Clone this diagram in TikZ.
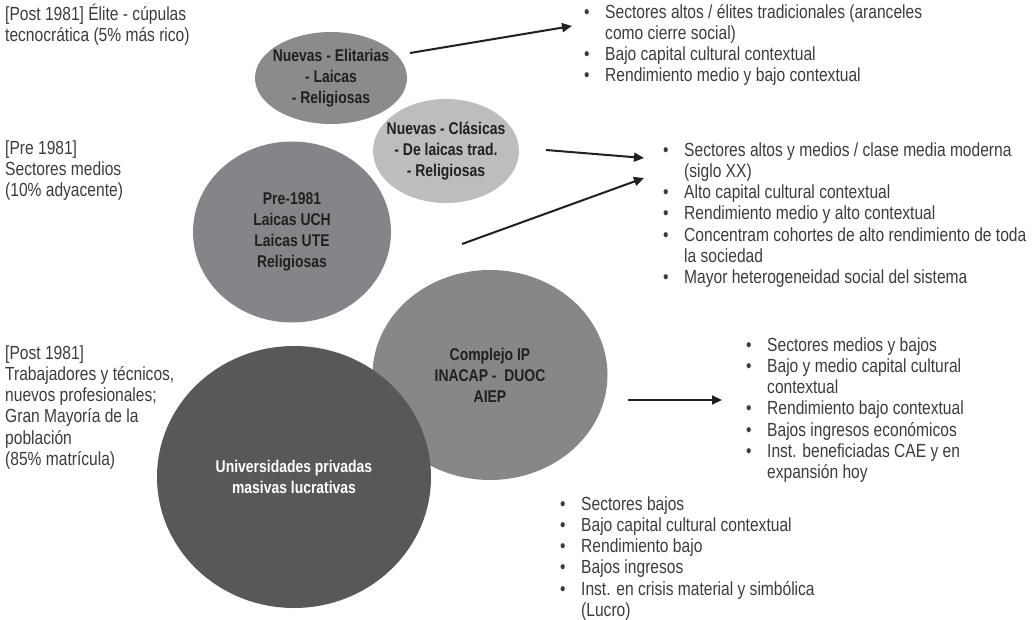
\documentclass[tikz,border=0pt]{standalone}
\usepackage{fontspec}
\setmainfont{Liberation Sans}[FakeStretch=0.82]
\usetikzlibrary{arrows.meta,shapes.geometric}
\definecolor{txt}{HTML}{3C3C3E}
\definecolor{ink}{HTML}{231F20}
\definecolor{cElit}{HTML}{8B8B8E}
\definecolor{cClas}{HTML}{BDBDBF}
\definecolor{cPre}{HTML}{858589}
\definecolor{cIP}{HTML}{87878A}
\definecolor{cDark}{HTML}{58585A}
\newcommand{\tl}{\rule{0pt}{20pt}}
\newcommand{\bl}{\makebox[21pt][l]{•}}
\newcommand{\ci}{\hspace*{21pt}}
\begin{document}
\begin{tikzpicture}[x=1pt,y=-1pt,
  blob/.style={ellipse, draw=none, inner sep=0pt},
  ctext/.style={align=center, inner sep=0pt, text=ink, font=\fontsize{17}{21}\selectfont\bfseries},
  ptext/.style={align=left, inner sep=0pt, anchor=north west, text=txt, font=\fontsize{19}{21.2}\selectfont},
  conn/.style={draw=ink, line width=2pt, -{Triangle[length=10pt,width=9pt]}}]
\useasboundingbox (0,0) rectangle (1032,620);

% blobs
\node[blob, fill=cElit, minimum width=152pt, minimum height=92pt] (elit) at (331,78) {};
\node[blob, fill=cClas, minimum width=146pt, minimum height=104pt] (clas) at (446,151) {};
\node[blob, fill=cPre, minimum width=198pt, minimum height=181pt] (pre) at (292,232) {};
\node[blob, fill=cIP, minimum width=235pt, minimum height=210pt] (ip) at (490,375) {};
\node[blob, fill=cDark, minimum width=274pt, minimum height=262pt] (mas) at (294,477) {};

% blob texts
\node[ctext] (elitT) at (elit) {Nuevas - Elitarias\\- Laicas\\- Religiosas};
\node[ctext] (clasT) at (clas) {Nuevas - Clásicas\\- De laicas trad.\\- Religiosas};
\node[ctext] (preT) at (pre) {Pre-1981\\Laicas UCH\\Laicas UTE\\Religiosas};
\node[ctext] (ipT) at (ip) {Complejo IP\\INACAP -\ \ DUOC\\AIEP};
\node[ctext, text=white] (masT) at (mas) {Universidades privadas\\masivas lucrativas};

% left labels
\node[ptext] (lab1) at (5,0) {\tl[Post 1981] Élite - cúpulas\\tecnocrática (5\% más rico)};
\node[ptext] (lab2) at (5,134) {\tl[Pre 1981]\\Sectores medios\\(10\% adyacente)};
\node[ptext] (lab3) at (5,339) {\tl[Post 1981]\\Trabajadores y técnicos,\\nuevos profesionales;\\Gran Mayoría de la\\población\\(85\% matrícula)};

% bullet lists
\node[ptext] (list1) at (584,-2) {\tl\bl Sectores altos / élites tradicionales (aranceles\\\ci como cierre social)\\\bl Bajo capital cultural contextual\\\bl Rendimiento medio y bajo contextual};
\node[ptext] (list2) at (663,136) {\tl\bl Sectores altos y medios / clase media moderna\\\ci (siglo XX)\\\bl Alto capital cultural contextual\\\bl Rendimiento medio y alto contextual\\\bl Concentram cohortes de alto rendimiento de toda\\\ci la sociedad\\\bl Mayor heterogeneidad social del sistema};
\node[ptext] (list3) at (746,331) {\tl\bl Sectores medios y bajos\\\bl Bajo y medio capital cultural\\\ci contextual\\\bl Rendimiento bajo contextual\\\bl Bajos ingresos económicos\\\bl Inst. beneficiadas CAE y en\\\ci expansión hoy};
\node[ptext] (list4) at (560,490) {\tl\bl Sectores bajos\\\bl Bajo capital cultural contextual\\\bl Rendimiento bajo\\\bl Bajos ingresos\\\bl Inst. en crisis material y simbólica\\\ci (Lucro)};

% arrows
\coordinate (a1s) at (410,53);
\coordinate (a1e) at (572,26);
\coordinate (a2s) at (546,150);
\coordinate (a2e) at (644,158);
\coordinate (a3s) at (462,244);
\coordinate (a3e) at (644,178);
\coordinate (a4s) at (628,400);
\coordinate (a4e) at (722,400);
\draw[conn] (a1s) -- (a1e);
\draw[conn] (a2s) -- (a2e);
\draw[conn] (a3s) -- (a3e);
\draw[conn] (a4s) -- (a4e);
\end{tikzpicture}
\end{document}
